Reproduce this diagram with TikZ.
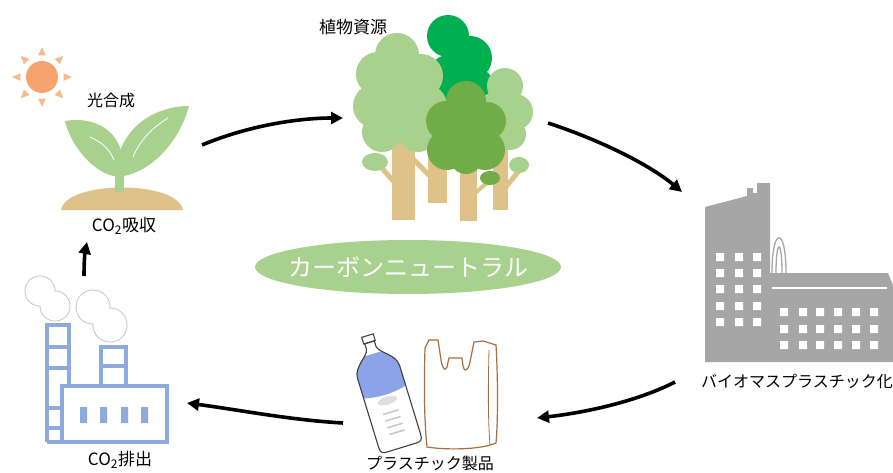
\documentclass[tikz,border=0pt]{standalone}
\usepackage{fontspec}
\setmainfont{Noto Sans CJK JP}
\usepackage{xcolor}
\usepackage{tikz}
\usetikzlibrary{arrows.meta,positioning}

\definecolor{sunorange}{RGB}{244,164,108}
\definecolor{sunray}{RGB}{247,186,142}
\definecolor{leaflight}{RGB}{169,209,142}
\definecolor{leafmid}{RGB}{112,173,71}
\definecolor{leafdark}{RGB}{0,176,80}
\definecolor{woodtan}{RGB}{223,194,138}
\definecolor{plantgray}{RGB}{166,166,166}
\definecolor{bottleblue}{RGB}{139,164,232}
\definecolor{bagbrown}{RGB}{166,110,66}
\definecolor{stackblue}{RGB}{142,169,219}
\definecolor{smokegray}{RGB}{200,200,200}

\tikzset{
  lbl/.style={font=\fontsize{16}{19}\selectfont, inner sep=1pt},
  cyclearrow/.style={line width=3.6pt, -{Triangle[length=12pt,width=12pt]}},
  stackline/.style={stackblue, line width=4.2pt}
}

\begin{document}
\begin{tikzpicture}[x=1pt,y=-1pt]
\useasboundingbox (0,0) rectangle (893,473);

% Sun
\fill[sunorange] (42,77) circle (16);
\fill[sunray, shift={(42,77)}] (90:30) -- (80:22) -- (100:22) -- cycle;
\fill[sunray, shift={(42,77)}] (-90:30) -- (-80:22) -- (-100:22) -- cycle;
\fill[sunray, shift={(42,77)}] (0:30) -- (10:22) -- (-10:22) -- cycle;
\fill[sunray, shift={(42,77)}] (180:30) -- (170:22) -- (190:22) -- cycle;
\fill[sunray, shift={(42,77)}] (45:30) -- (35:22) -- (55:22) -- cycle;
\fill[sunray, shift={(42,77)}] (135:30) -- (125:22) -- (145:22) -- cycle;
\fill[sunray, shift={(42,77)}] (-45:30) -- (-35:22) -- (-55:22) -- cycle;
\fill[sunray, shift={(42,77)}] (-135:30) -- (-125:22) -- (-145:22) -- cycle;

% Sprout on its mound
\fill[woodtan] (61,210) .. controls (66,180) and (178,180) .. (183,210) -- cycle;
\fill[leaflight] (115,165) rectangle (124,192);
\fill[leaflight] (120,177) .. controls (94,176) and (70,144) .. (65,121)
    .. controls (94,116) and (121,130) .. (123,162) -- cycle;
\fill[leaflight] (117,177) .. controls (152,174) and (180,140) .. (189,106)
    .. controls (160,106) and (125,122) .. (117,162) -- cycle;
\draw[white, line width=0.8pt] (90,137) .. controls (102,142) and (110,150) .. (114,160);
\draw[white, line width=0.8pt] (133,157) .. controls (140,140) and (152,128) .. (168,118);

% Trunks and side branches
\fill[woodtan] (392,140) rectangle (415,220);
\fill[woodtan] (428,140) rectangle (447,203);
\fill[woodtan] (460,160) rectangle (477,221);
\fill[woodtan] (493,140) rectangle (508,210);
\draw[woodtan, line width=5pt] (380,166) -- (396,184);
\draw[woodtan, line width=5pt] (412,158) -- (432,178);
\draw[woodtan, line width=5pt] (505,188) -- (518,172);
\draw[woodtan, line width=4pt] (474,194) -- (488,182);
\fill[leaflight] (375,162) ellipse (13 and 9);
\fill[leaflight] (519,165) ellipse (10 and 8);

% Canopies, back to front
\fill[leafdark] (448,36) circle (21) (470,58) circle (22) (475,88) circle (20) (452,80) circle (26);
\fill[leaflight] (505,86) circle (18) (515,112) circle (18) (510,134) circle (16) (496,112) circle (20);
\fill[leaflight] (397,55) circle (22) (378,74) circle (22) (421,76) circle (22)
    (375,106) circle (22) (425,106) circle (22) (382,132) circle (20) (418,132) circle (20)
    (400,100) circle (36);
\fill[leafmid] (466,101) circle (20) (446,121) circle (20) (487,121) circle (19)
    (447,150) circle (20) (485,150) circle (20) (466,158) circle (16) (466,130) circle (30);
\fill[leafmid] (490,178) ellipse (10 and 7);

% Green oval in the middle
\fill[leaflight] (408,267) ellipse (153 and 27);
\node[font=\fontsize{24}{28}\selectfont, text=white] (neutral) at (408,267) {カーボンニュートラル};

% Grey factory
\fill[plantgray] (705,362) -- (705,207) -- (747,196) -- (747,188) -- (753,188) -- (753,193)
    -- (757,193) -- (757,183) -- (770,183) -- (770,273) -- (888,273) -- (893,285)
    -- (893,362) -- cycle;
\draw[plantgray, line width=1.3pt] (772,273) .. controls (772,226) and (786,226) .. (786,273);
\draw[plantgray, line width=1.3pt] (776,273) .. controls (776,238) and (782,238) .. (782,273);
\draw[white, line width=1.5pt] (772,288) -- (887,288);
% windows of the tall block
\fill[white] (716,253) rectangle ++(8,8) (735,253) rectangle ++(8,8) (753,253) rectangle ++(8,8);
\fill[white] (716,269) rectangle ++(8,8) (735,269) rectangle ++(8,8) (753,269) rectangle ++(8,8);
\fill[white] (716,285) rectangle ++(8,8) (735,285) rectangle ++(8,8) (753,285) rectangle ++(8,8);
\fill[white] (716,302) rectangle ++(8,8) (735,302) rectangle ++(8,8) (753,302) rectangle ++(8,8);
\fill[white] (716,318) rectangle ++(8,8) (735,318) rectangle ++(8,8) (753,318) rectangle ++(8,8);
% windows of the low block
\fill[white] (780,308) rectangle ++(8,8) (799,308) rectangle ++(8,8) (816,308) rectangle ++(8,8)
    (834,308) rectangle ++(8,8) (852,308) rectangle ++(8,8) (870,308) rectangle ++(8,8);
\fill[white] (780,325) rectangle ++(8,8) (799,325) rectangle ++(8,8) (816,325) rectangle ++(8,8)
    (834,325) rectangle ++(8,8) (852,325) rectangle ++(8,8) (870,325) rectangle ++(8,8);
\fill[white] (780,341) rectangle ++(8,8) (799,341) rectangle ++(8,8) (816,341) rectangle ++(8,8)
    (834,341) rectangle ++(8,8) (852,341) rectangle ++(8,8) (870,341) rectangle ++(8,8);

% Bottle
\begin{scope}[shift={(385,393)}, rotate=17]
  \path[clip] (-5,-53) -- (-5,-47) .. controls (-6,-40) and (-22,-34) .. (-22,-22) -- (-22,50)
      .. controls (-22,56) and (-20,57) .. (-15,57) -- (15,57) .. controls (20,57) and (22,56) .. (22,50)
      -- (22,-22) .. controls (22,-34) and (6,-40) .. (5,-47) -- (5,-53) -- cycle;
  \fill[bottleblue] (-25,-41) -- (25,-41) -- (25,-2) .. controls (10,3) and (-10,3) .. (-25,-2) -- cycle;
  \fill[gray!25] (0,8) ellipse (10 and 4);
  \draw[gray!45, line width=1.5pt] (-8,20) -- (8,20) (-8,27) -- (8,27) (-8,34) -- (8,34) (-8,41) -- (8,41);
\end{scope}
\begin{scope}[shift={(385,393)}, rotate=17]
  \draw[black!75, line width=1.1pt, fill=white] (-6,-60) rectangle (6,-53);
  \draw[black!75, line width=1.1pt] (-5,-53) -- (-5,-47) .. controls (-6,-40) and (-22,-34) .. (-22,-22) -- (-22,50)
      .. controls (-22,56) and (-20,57) .. (-15,57) -- (15,57) .. controls (20,57) and (22,56) .. (22,50)
      -- (22,-22) .. controls (22,-34) and (6,-40) .. (5,-47) -- (5,-53) -- cycle;
\end{scope}

% Carrier bag
\draw[bagbrown, line width=1.2pt, fill=white] (427,447) .. controls (424,420) and (424,380) .. (425,348)
    -- (429,340) -- (438,340) -- (441,360) .. controls (443,372) and (447,372) .. (448,362)
    -- (449,358) -- (462,358) -- (463,366) .. controls (464,372) and (468,372) .. (470,362)
    -- (474,342) -- (483,341) -- (496,345) .. controls (498,380) and (498,420) .. (496,443)
    .. controls (480,450) and (445,450) .. cycle;
\draw[bagbrown, line width=0.8pt] (489,350) .. controls (488,390) and (488,420) .. (490,445);

% Blue factory and its smoke
\draw[smokegray, line width=1pt, fill=white] (40,291) circle (15) (55,306) circle (15);
\fill[white] (40,291) circle (14.4) (55,306) circle (14.4);
\draw[smokegray, line width=1pt, fill=white] (93,307) circle (17) (110,325) circle (17);
\fill[white] (93,307) circle (16.4) (110,325) circle (16.4);
\draw[stackline] (47,442) -- (47,325) -- (69,325) -- (69,386);
\draw[stackline] (47,347) -- (69,347) (47,368) -- (69,368) (47,408) -- (62,408) (47,428) -- (62,428);
\draw[stackline] (101,386) -- (101,347) -- (126,347) -- (126,386) (101,366) -- (126,366);
\draw[stackline] (47,442) -- (167,442) -- (167,386) -- (62,386) -- (62,442);
\fill[stackblue] (80,407) rectangle ++(7,16) (100,407) rectangle ++(7,16)
    (121,407) rectangle ++(7,16) (141,407) rectangle ++(7,16);

% Labels
\node[lbl] (photo) at (111,100) {光合成};
\node[lbl, font=\fontsize{17}{20}\selectfont] (absorb) at (124,226) {CO\textsubscript{2}吸収};
\node[lbl, font=\fontsize{17}{20}\selectfont] (forest) at (353,27) {植物資源};
\node[lbl] (bioplant) at (797,381) {バイオマスプラスチック化};
\node[lbl] (goods) at (430,463) {プラスチック製品};
\node[lbl, font=\fontsize{17}{20}\selectfont] (emit) at (120,460) {CO\textsubscript{2}排出};

% Arrow ends
\coordinate (sproutout) at (202,145);
\coordinate (forestin) at (343,118);
\coordinate (forestout) at (548,123);
\coordinate (plantin) at (682,192);
\coordinate (plantout) at (675,382);
\coordinate (goodsin) at (537,418);
\coordinate (goodsout) at (343,423);
\coordinate (stackin) at (187,403);
\coordinate (stackout) at (84,276);
\coordinate (absorbin) at (87,242);

% Cycle arrows
\draw[cyclearrow] (sproutout) .. controls (250,125) and (300,118) .. (forestin);
\draw[cyclearrow] (forestout) .. controls (600,140) and (650,165) .. (plantin);
\draw[cyclearrow] (plantout) .. controls (640,400) and (590,412) .. (goodsin);
\draw[cyclearrow] (goodsout) .. controls (290,420) and (240,410) .. (stackin);
\draw[cyclearrow] (stackout) .. controls (84,262) and (85,252) .. (absorbin);
\end{tikzpicture}
\end{document}
